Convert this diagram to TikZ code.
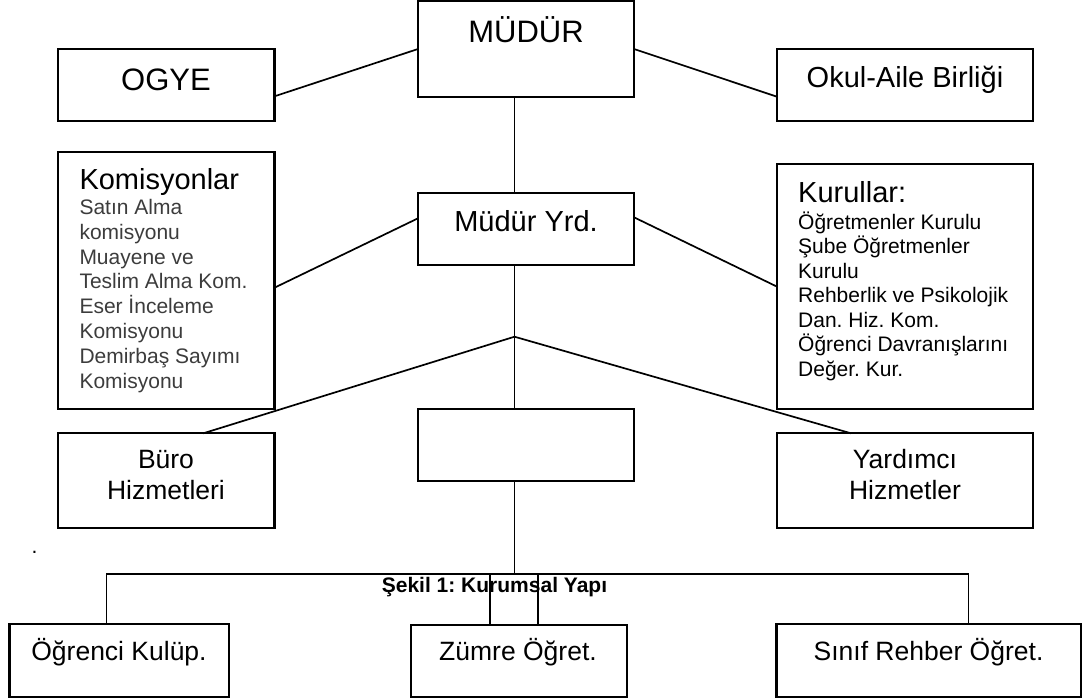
\documentclass[tikz,border=0pt]{standalone}
\usepackage{fontspec}
\setmainfont{Liberation Sans}
\usepackage{tikz}
\usetikzlibrary{positioning}
\frenchspacing

\definecolor{listegri}{RGB}{60,60,60}

\tikzset{
	kutu/.style={shape=rectangle, draw, line width=2.2pt, inner sep=0pt, outer sep=0pt},
	cizgi/.style={line width=1.7pt},
	buyuk/.style={font=\fontsize{29}{34}\selectfont, inner sep=0pt},
	orta/.style={font=\fontsize{26.5}{31}\selectfont, inner sep=0pt},
	kucuk/.style={font=\fontsize{21}{25}\selectfont, inner sep=0pt, anchor=base west}
}

\begin{document}
\begin{tikzpicture}[x=1pt, y=-1pt]
				\useasboundingbox (0,0) rectangle (1083,699);
				% Kutular:
				\node[kutu, minimum width=216pt, minimum height=96pt](mudur) at (526, 49){};
				\node[kutu, minimum width=216.5pt, minimum height=71.7pt](ogye) at (166.25, 84.85){};
				\node[kutu, minimum width=256pt, minimum height=71.7pt](okul) at (905, 84.85){};
				\node[kutu, minimum width=216.5pt, minimum height=257pt](komis) at (166.25, 280.5){};
				\node[kutu, minimum width=216pt, minimum height=72.3pt](yrd) at (526, 228.85){};
				\node[kutu, minimum width=256pt, minimum height=244.7pt](kurul) at (905, 286.65){};
				\node[kutu, minimum width=216.5pt, minimum height=94.4pt](buro) at (166.25, 480.5){};
				\node[kutu, minimum width=216pt, minimum height=72.3pt](bos) at (526, 444.85){};
				\node[kutu, minimum width=256pt, minimum height=94.4pt](yardimci) at (905, 480.5){};
				\node[kutu, minimum width=219.5pt, minimum height=73pt](ogrenci) at (119.25, 660.5){};
				\node[kutu, minimum width=216pt, minimum height=72pt](zumre) at (518.7, 661){};
				\node[kutu, minimum width=304.5pt, minimum height=73pt](sinif) at (928.75, 660.5){};
				% Yazilar:
				\node[buyuk, font=\fontsize{31}{37}\selectfont, anchor=base](tMudur) at (526, 42.7){MÜDÜR};
				\node[buyuk, font=\fontsize{31}{37}\selectfont, anchor=base](tOgye) at (166, 90){OGYE};
				\node[buyuk, anchor=base](tOkul) at (905, 87.3){Okul-Aile Birliği};
				\node[buyuk, anchor=base](tYrd) at (526, 231){Müdür Yrd.};
				\node[buyuk, anchor=base west](tKomis) at (79.3, 189.3){Komisyonlar};
				\node[buyuk, anchor=base west](tKurul) at (798, 202.7){Kurullar:};
				\foreach \satir [count=\n from 0] in {Satın Alma, komisyonu, Muayene ve, Teslim Alma Kom., Eser İnceleme, Komisyonu, Demirbaş Sayımı, Komisyonu}
					\node[kucuk, text=listegri](k\n) at (79.3, 214.5+24.8*\n){\satir};
				\foreach \satir [count=\n from 0] in {Öğretmenler Kurulu, Şube Öğretmenler, Kurulu, Rehberlik ve Psikolojik, Dan. Hiz. Kom., Öğrenci Davranışlarını, Değer. Kur.}
					\node[kucuk](r\n) at (798, 229.3+24.45*\n){\satir};
				\node[orta, anchor=base](tBuro1) at (166, 468.3){Büro};
				\node[orta, anchor=base](tBuro2) at (166, 499){Hizmetleri};
				\node[orta, anchor=base](tYard1) at (905, 468.3){Yardımcı};
				\node[orta, anchor=base](tYard2) at (905, 499.3){Hizmetler};
				\node[orta, anchor=base](tOgrenci) at (119, 660){Öğrenci Kulüp.};
				\node[orta, anchor=base](tZumre) at (518, 660){Zümre Öğret.};
				\node[orta, anchor=base](tSinif) at (928.5, 660){Sınıf Rehber Öğret.};
				\node[kucuk, anchor=base](nokta) at (34.5, 553){.};
				\node[kucuk, anchor=base, font=\bfseries\fontsize{21}{25}\selectfont](sekil) at (494.5, 592.7){Şekil 1: Kurumsal Yapı};
				% Baglantilar:
				\coordinate (kol) at (514.5, 336.7);
				\coordinate (hat) at (514.5, 574);
				\draw[cizgi] ([yshift=-11.45pt]ogye.east) -- (mudur.west);
				\draw[cizgi] (mudur.east) -- ([yshift=-11.85pt]okul.west);
				\draw[cizgi] ([yshift=-7.2pt]komis.east) -- ([yshift=10.55pt]yrd.west);
				\draw[cizgi] ([yshift=11.55pt]yrd.east) -- (kurul.west);
				\draw[cizgi] ([xshift=-11.5pt]mudur.south) -- ([xshift=-11.5pt]yrd.north);
				\draw[cizgi] ([xshift=-11.5pt]yrd.south) -- (kol) -- ([xshift=-11.5pt]bos.north);
				\draw[cizgi] ([xshift=37pt]buro.north) -- (kol) -- ([xshift=-54pt]yardimci.north);
				\draw[cizgi] ([xshift=-11.5pt]bos.south) -- (hat);
				\draw[cizgi] ([xshift=-12.75pt]ogrenci.north) |- (hat) -| ([xshift=39.85pt]sinif.north);
				\draw[cizgi] ([xshift=-28.4pt]zumre.north) |- (hat);
				\draw[cizgi] ([xshift=19.3pt]zumre.north) |- (hat);
			\end{tikzpicture}
\end{document}
